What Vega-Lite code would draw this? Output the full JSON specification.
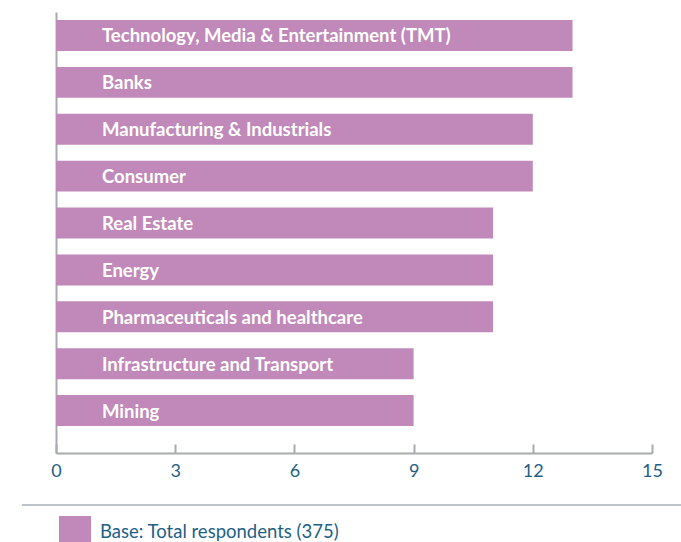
{
  "$schema": "https://vega.github.io/schema/vega-lite/v6.json",
  "width": 596,
  "height": 441,
  "autosize": {"type": "none"},
  "padding": {"left": 56, "top": 12, "right": 29, "bottom": 89},
  "background": "white",
  "config": {
    "view": {"stroke": null},
    "font": "Lato"
  },
  "datasets": {
    "bars": [
      {"sector": "Technology, Media & Entertainment (TMT)", "count": 13, "base": "Base: Total respondents (375)"},
      {"sector": "Banks", "count": 13, "base": "Base: Total respondents (375)"},
      {"sector": "Manufacturing & Industrials", "count": 12, "base": "Base: Total respondents (375)"},
      {"sector": "Consumer", "count": 12, "base": "Base: Total respondents (375)"},
      {"sector": "Real Estate", "count": 11, "base": "Base: Total respondents (375)"},
      {"sector": "Energy", "count": 11, "base": "Base: Total respondents (375)"},
      {"sector": "Pharmaceuticals and healthcare", "count": 11, "base": "Base: Total respondents (375)"},
      {"sector": "Infrastructure and Transport", "count": 9, "base": "Base: Total respondents (375)"},
      {"sector": "Mining", "count": 9, "base": "Base: Total respondents (375)"}
    ],
    "divider": [
      {"from": -0.86, "to": 15.75, "level": -0.118}
    ]
  },
  "layer": [
    {
      "data": {"name": "bars"},
      "layer": [
        {
          "mark": {"type": "bar"},
          "encoding": {
            "y": {
              "field": "sector", "type": "nominal", "sort": null,
              "scale": {"paddingInner": 0.34, "paddingOuter": 0.373, "align": 0.229},
              "axis": {"title": null, "labels": false, "ticks": false, "domain": true, "domainColor": "#a7abaf", "domainWidth": 2, "grid": false}
            },
            "x": {
              "field": "count", "type": "quantitative",
              "scale": {"domain": [0, 15], "nice": false},
              "axis": {
                "title": null, "values": [0, 3, 6, 9, 12, 15], "grid": false,
                "domainColor": "#a7abaf", "domainWidth": 2,
                "tickColor": "#a7abaf", "tickWidth": 2, "tickSize": -9,
                "labelFont": "Lato", "labelFontSize": 18, "labelColor": "#1e5f85", "labelPadding": 18, "labelFlush": false
              }
            },
            "color": {
              "field": "base", "type": "nominal",
              "scale": {"range": ["#c089b9"]},
              "legend": {
                "title": null, "orient": "none", "legendX": 3, "legendY": 504,
                "padding": 0, "symbolType": "square", "symbolSize": 1024, "symbolStrokeWidth": 0,
                "labelFont": "Lato", "labelFontSize": 18.5, "labelColor": "#1e5f85", "labelOffset": 9, "labelLimit": 0
              }
            }
          }
        },
        {
          "mark": {"type": "text", "align": "left", "baseline": "middle", "dx": 46, "dy": 1, "font": "Lato", "fontWeight": "bold", "fontSize": 18.5, "color": "white"},
          "encoding": {
            "y": {"field": "sector", "type": "nominal", "sort": null},
            "x": {"datum": 0},
            "text": {"field": "sector"}
          }
        }
      ]
    },
    {
      "data": {"name": "divider"},
      "mark": {"type": "rule", "color": "#a9b1b8", "strokeWidth": 1.5, "clip": false},
      "encoding": {
        "x": {"field": "from", "type": "quantitative"},
        "x2": {"field": "to"},
        "y": {"field": "level", "type": "quantitative", "scale": {"domain": [0, 1], "nice": false, "zero": false}, "axis": null}
      }
    }
  ],
  "resolve": {"scale": {"y": "independent"}, "axis": {"y": "independent"}}
}
